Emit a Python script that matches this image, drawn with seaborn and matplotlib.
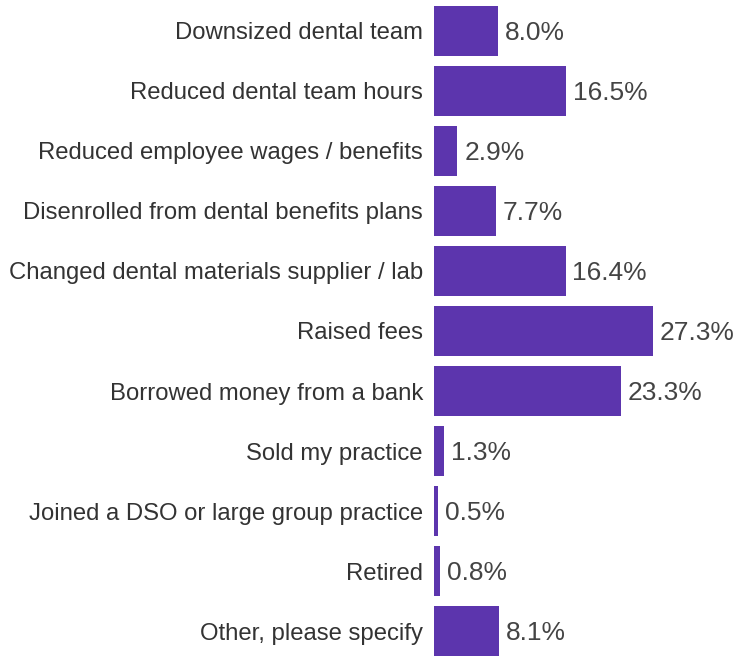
import pandas as pd
import seaborn as sns
import matplotlib.pyplot as plt

# Survey answers and share of respondents (%)
actions = [
    "Downsized dental team",
    "Reduced dental team hours",
    "Reduced employee wages / benefits",
    "Disenrolled from dental benefits plans",
    "Changed dental materials supplier / lab",
    "Raised fees",
    "Borrowed money from a bank",
    "Sold my practice",
    "Joined a DSO or large group practice",
    "Retired",
    "Other, please specify",
]
shares = [8.0, 16.5, 2.9, 7.7, 16.4, 27.3, 23.3, 1.3, 0.5, 0.8, 8.1]

df = pd.DataFrame({"action": actions, "share": shares})

sns.set_style("white")
plt.rcParams["font.family"] = ["Liberation Sans", "DejaVu Sans"]

fig = plt.figure(figsize=(7.37, 6.56), dpi=100)
ax = fig.add_axes([434 / 737, 0.0, 303 / 737, 650 / 656])

sns.barplot(data=df, x="share", y="action", color="#5C35AD", saturation=1,
            width=0.833, linewidth=0, ax=ax)

ax.set_xlim(0, 303 / 8.02)
ax.set_ylim(len(actions) - 0.5 - 0.0835, -0.5 + 0.0835)

for i, v in enumerate(shares):
    ax.annotate(f"{v:.1f}%", (v, i), xytext=(5, -1.5), textcoords="offset points",
                va="center", ha="left", fontsize=19, color="#444444")

ax.set_xlabel("")
ax.set_ylabel("")
ax.set_xticks([])
ax.tick_params(axis="y", length=0, pad=8, labelsize=17.2, labelcolor="#333333")
sns.despine(ax=ax, left=True, bottom=True, top=True, right=True)

fig.savefig("out.png", dpi=100)
